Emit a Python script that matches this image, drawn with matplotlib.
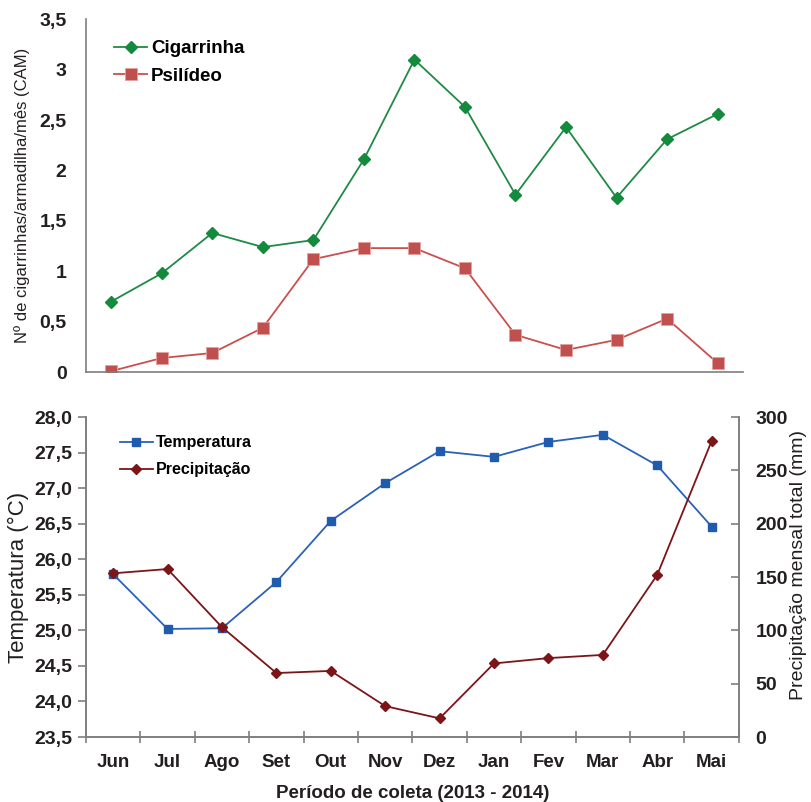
import numpy as np
import matplotlib
matplotlib.use('Agg')
import matplotlib.pyplot as plt
from matplotlib.ticker import FuncFormatter, MultipleLocator, FixedLocator

plt.rcParams['font.family'] = ['Liberation Sans', 'DejaVu Sans']

# top panel: 13 collection dates (no labels on that axis)
cigarrinha = [0.70, 0.98, 1.38, 1.24, 1.31, 2.11, 3.10, 2.63, 1.76, 2.43, 1.73, 2.31, 2.56]
psilideo = [0.01, 0.14, 0.19, 0.44, 1.12, 1.23, 1.23, 1.03, 0.37, 0.22, 0.32, 0.53, 0.09]

# bottom panel: monthly weather
meses = ['Jun', 'Jul', 'Ago', 'Set', 'Out', 'Nov', 'Dez', 'Jan', 'Fev', 'Mar', 'Abr', 'Mai']
temperatura = [25.79, 25.02, 25.03, 25.68, 26.54, 27.07, 27.52, 27.44, 27.65, 27.75, 27.32, 26.46]
precipitacao = [153.5, 157.5, 103.0, 60.0, 62.0, 29.0, 17.5, 69.0, 74.0, 77.0, 152.0, 277.5]

txt = '#231f20'
spine_c = '#7f7f7f'
comma = lambda fmt: FuncFormatter(lambda v, p: (fmt % v).replace('.', ','))

fig = plt.figure(figsize=(8.11, 8.02), dpi=100)

# ---- top panel
ax1 = fig.add_axes([0.106, 0.536, 0.810, 0.440])
x1 = np.arange(len(cigarrinha))
ax1.plot(x1, cigarrinha, color='#1f8a45', lw=1.3, marker='D', ms=6.5,
         mfc='#138a3c', mec='#138a3c', label='Cigarrinha')
ax1.plot(x1, psilideo, color='#c9504d', lw=1.3, marker='s', ms=9,
         mfc='#c0504d', mec='#e3a09e', mew=0.6, label='Psilídeo')
ax1.set_xlim(-0.5, len(cigarrinha) - 0.5)
ax1.set_ylim(0, 3.5)
ax1.yaxis.set_major_locator(MultipleLocator(0.5))
ax1.yaxis.set_major_formatter(comma('%g'))
ax1.set_xticks([])
ax1.tick_params(axis='y', length=0, pad=14, labelsize=14, labelcolor=txt)
for t in ax1.get_yticklabels():
    t.set_fontweight('bold')
for s in ['top', 'right']:
    ax1.spines[s].set_visible(False)
for s in ['left', 'bottom']:
    ax1.spines[s].set_color(spine_c)
    ax1.spines[s].set_linewidth(1.2)
ax1.set_ylabel('Nº de cigarrinhas/armadilha/mês (CAM)', fontsize=12, color=txt, labelpad=7)
ax1.legend(loc='upper left', bbox_to_anchor=(0.043, 0.941), frameon=False, borderpad=0,
           borderaxespad=0, prop={'weight': 'bold', 'size': 13.5}, handlelength=1.75,
           handletextpad=0.2, labelspacing=0.55)

# ---- bottom panel
ax2 = fig.add_axes([0.106, 0.081, 0.805, 0.399])
x2 = np.arange(len(meses))
ax2.plot(x2, temperatura, color='#2a62b6', lw=1.3, marker='s', ms=5.5,
         mfc='#1f5cb0', mec='#1f5cb0', label='Temperatura')
ax3 = ax2.twinx()
ax3.plot(x2, precipitacao, color='#7b1518', lw=1.3, marker='D', ms=5,
         mfc='#7b1518', mec='#7b1518', label='Precipitação')
ax2.set_xlim(-0.5, len(meses) - 0.5)
ax2.set_ylim(23.5, 28.0)
ax3.set_ylim(0, 300)
ax2.yaxis.set_major_locator(MultipleLocator(0.5))
ax2.yaxis.set_major_formatter(comma('%.1f'))
ax3.yaxis.set_major_locator(MultipleLocator(50))
ax2.set_xticks(x2)
ax2.set_xticklabels(meses)
ax2.xaxis.set_minor_locator(FixedLocator(np.arange(len(meses) + 1) - 0.5))
ax2.tick_params(axis='x', which='major', length=0, pad=12, labelsize=13.5, labelcolor=txt)
ax2.tick_params(axis='x', which='minor', direction='inout', length=9, color=spine_c, width=1.2)
ax2.tick_params(axis='y', length=6, color=spine_c, width=1.2, labelsize=14, labelcolor=txt, pad=4)
ax3.tick_params(axis='y', direction='in', length=6, color=spine_c, width=1.2,
                labelsize=14, labelcolor=txt, pad=12)
for t in ax2.get_xticklabels() + ax2.get_yticklabels() + ax3.get_yticklabels():
    t.set_fontweight('bold')
for a in (ax2, ax3):
    a.spines['top'].set_visible(False)
    for s in ['left', 'right', 'bottom']:
        a.spines[s].set_color(spine_c)
        a.spines[s].set_linewidth(1.2)
ax2.set_ylabel('Temperatura (°C)', fontsize=16, color=txt, labelpad=4)
ax3.set_ylabel('Precipitação mensal total (mm)', fontsize=14, color=txt)
ax3.yaxis.set_label_coords(1.078, 0.5375)
ax2.set_xlabel('Período de coleta (2013 - 2014)', fontsize=13.5, fontweight='bold',
               color=txt, labelpad=10)
h2, l2 = ax2.get_legend_handles_labels()
h3, l3 = ax3.get_legend_handles_labels()
ax3.legend(h2 + h3, l2 + l3, loc='upper left', bbox_to_anchor=(0.052, 0.9425), frameon=False,
           borderpad=0, borderaxespad=0, prop={'weight': 'bold', 'size': 11.5},
           handlelength=2.05, handletextpad=0.2, labelspacing=0.75)

fig.savefig('out.png', dpi=100)
